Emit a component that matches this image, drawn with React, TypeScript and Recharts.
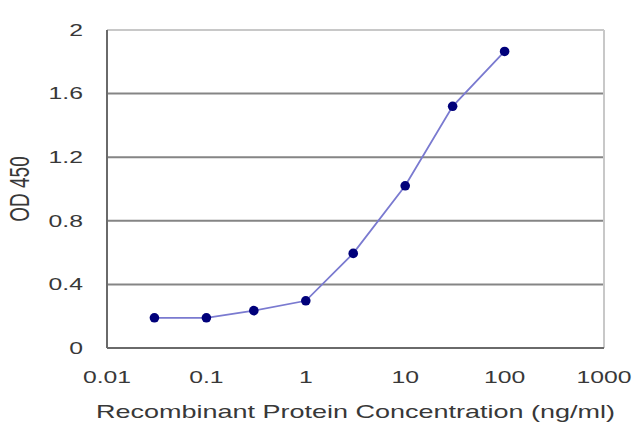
import React from "react";
import {
  LineChart,
  Line,
  XAxis,
  YAxis,
  CartesianGrid,
  ReferenceLine,
} from "recharts";

const concentrations = [0.03, 0.1, 0.3, 1, 3, 10, 30, 100];
const od450 = [0.19, 0.19, 0.235, 0.297, 0.595, 1.02, 1.52, 1.865];
const xTicks = [0.01, 0.1, 1, 10, 100, 1000];
const yTicks = [0, 0.4, 0.8, 1.2, 1.6, 2];

const data = concentrations.map((c, i) => ({ conc: c, od: od450[i] }));

const FONT = "'Liberation Sans', Arial, sans-serif";
const TEXT = "#383838";
// the picture is stretched sideways, so every text is too
const STRETCH = 1.5;

function XTick(props: any) {
  const { x, y, payload } = props;
  return (
    <g transform={`translate(${x},${y}) scale(${STRETCH},1)`}>
      <text
        x={0}
        y={0}
        dy="0.35em"
        textAnchor="middle"
        fontFamily={FONT}
        fontSize={16.5}
        fill={TEXT}
      >
        {payload.value}
      </text>
    </g>
  );
}

function YTick(props: any) {
  const { x, y, payload } = props;
  return (
    <g transform={`translate(${x},${y}) scale(${STRETCH},1)`}>
      <text
        x={0}
        y={0}
        dy="0.35em"
        textAnchor="end"
        fontFamily={FONT}
        fontSize={16.5}
        fill={TEXT}
      >
        {payload.value}
      </text>
    </g>
  );
}

function YTitle(props: any) {
  const vb = props.viewBox;
  const cx = vb.x + 19;
  const cy = vb.y + vb.height / 2;
  return (
    <g transform={`translate(${cx},${cy}) scale(${STRETCH},1) rotate(-90)`}>
      <text
        x={0}
        y={0}
        dy="0.35em"
        textAnchor="middle"
        fontFamily={FONT}
        fontSize={19}
        fill={TEXT}
      >
        OD 450
      </text>
    </g>
  );
}

function XTitle(props: any) {
  const vb = props.viewBox;
  const cx = vb.x + vb.width / 2;
  const cy = vb.y + 64;
  return (
    <g transform={`translate(${cx},${cy}) scale(${STRETCH},1)`}>
      <text
        x={0}
        y={0}
        dy="0.35em"
        textAnchor="middle"
        fontFamily={FONT}
        fontSize={18}
        fill={TEXT}
      >
        Recombinant Protein Concentration (ng/ml)
      </text>
    </g>
  );
}

export default function App() {
  return (
    <div style={{ position: "absolute", left: 0, top: 0, background: "#fff" }}>
      <LineChart
        width={640}
        height={427}
        data={data}
        margin={{ top: 30, right: 36, bottom: 0, left: 0 }}
      >
        <CartesianGrid
          vertical={false}
          horizontalValues={yTicks.slice(1, -1)}
          stroke="#858585"
          strokeWidth={2}
        />
        <ReferenceLine y={2} stroke="#c8c8c8" strokeWidth={2} />
        <ReferenceLine x={1000} stroke="#c8c8c8" strokeWidth={2} />
        <XAxis
          dataKey="conc"
          type="number"
          scale="log"
          domain={[0.01, 1000]}
          ticks={xTicks}
          height={79}
          tickLine={false}
          tickSize={0}
          tickMargin={29}
          axisLine={{ stroke: "#6a6a6a", strokeWidth: 2 }}
          tick={<XTick />}
          label={{ content: XTitle }}
          interval={0}
        />
        <YAxis
          type="number"
          domain={[0, 2]}
          ticks={yTicks}
          width={107}
          tickLine={false}
          tickSize={0}
          tickMargin={24}
          axisLine={{ stroke: "#6a6a6a", strokeWidth: 2 }}
          tick={<YTick />}
          label={{ content: YTitle }}
          interval={0}
        />
        <Line
          type="linear"
          dataKey="od"
          stroke="#7a7ad0"
          strokeWidth={1.8}
          dot={{ r: 4.8, fill: "#00007a", stroke: "#00007a", strokeWidth: 0 }}
          activeDot={false}
          isAnimationActive={false}
        />
      </LineChart>
    </div>
  );
}
